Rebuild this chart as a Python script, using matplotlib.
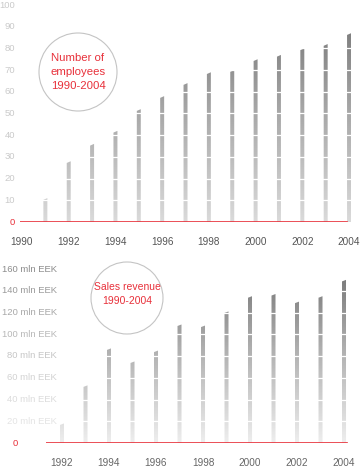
import numpy as np
import matplotlib
matplotlib.use("Agg")
import matplotlib.pyplot as plt
from matplotlib.colors import LinearSegmentedColormap
from matplotlib.path import Path
from matplotlib.patches import PathPatch, Circle

# data
emp_years = [1991, 1992, 1993, 1994, 1995, 1996, 1997, 1998, 1999, 2000, 2001, 2002, 2003, 2004]
employees = [11, 28, 36, 42, 52, 58, 64, 69, 70, 75, 77, 80, 82, 87]
emp_ticks = [0, 10, 20, 30, 40, 50, 60, 70, 80, 90, 100]
emp_xticks = [1990, 1992, 1994, 1996, 1998, 2000, 2002, 2004]

rev_years = [1992, 1993, 1994, 1995, 1996, 1997, 1998, 1999, 2000, 2001, 2002, 2003, 2004]
revenue = [18, 53, 87, 75, 85, 109, 108, 121, 135, 137, 130, 135, 150]
rev_ticks = [0, 20, 40, 60, 80, 100, 120, 140, 160]
rev_xticks = [1992, 1994, 1996, 1998, 2000, 2002, 2004]

plt.rcParams['font.family'] = ['Liberation Sans', 'DejaVu Sans']

W, H = 361, 473
RED = '#e8303a'
cmap_top = LinearSegmentedColormap.from_list('top', ['#dadada', '#a8a8a8', '#727272'])
cmap_bot = LinearSegmentedColormap.from_list('bot', ['#eeeeee', '#b4b4b4', '#747474'])


def px_axes(fig, left, right, top, bottom):
    return fig.add_axes([left / W, 1 - bottom / H, (right - left) / W, (bottom - top) / H])


def grad_bars(ax, years, vals, width, cap, ymax, grid, cmap):
    verts, codes = [], []
    for x, v in zip(years, vals):
        verts += [(x - width / 2, 0), (x + width / 2, 0), (x + width / 2, v),
                  (x - width / 2, v - cap), (x - width / 2, 0)]
        codes += [Path.MOVETO, Path.LINETO, Path.LINETO, Path.LINETO, Path.CLOSEPOLY]
    patch = PathPatch(Path(verts, codes), facecolor='none', edgecolor='none')
    ax.add_patch(patch)
    x0, x1 = ax.get_xlim()
    grad = np.linspace(0, 1, 256).reshape(-1, 1)
    im = ax.imshow(grad, cmap=cmap, origin='lower', aspect='auto',
                   extent=[x0, x1, 0, ymax], zorder=2)
    im.set_clip_path(patch)
    for g in grid[1:]:
        ax.axhline(g, color='white', lw=0.9, zorder=3)
    ax.set_xlim(x0, x1)


fig = plt.figure(figsize=(W / 100, H / 100), dpi=100)

# top chart: employees
ax1 = px_axes(fig, 20, 351, 5, 222)
ax1.set_xlim(1989.914, 2004.084)
ax1.set_ylim(0, 100)
grad_bars(ax1, emp_years, employees, 0.17, 0.8, 100, emp_ticks, cmap_top)
ax1.axhline(0, xmin=0, xmax=(347 - 20) / 331, color=RED, lw=1.2, zorder=4)
ax1.set_ylim(0, 100)
for t in emp_ticks:
    ax1.text(-5 / 331, t, str(t), transform=ax1.get_yaxis_transform(),
             ha='right', va='center', fontsize=6.8,
             color=RED if t == 0 else '#cacaca')
ax1.set_xticks(emp_xticks)
ax1.set_xticklabels([str(y) for y in emp_xticks], fontsize=7.2, color='#555555')
ax1.tick_params(axis='x', length=0, pad=11)
ax1.set_yticks([])
for s in ax1.spines.values():
    s.set_visible(False)
ax1.patch.set_alpha(0)

# bottom chart: sales revenue
ax2 = px_axes(fig, 46, 350, 269, 443)
ax2.set_xlim(1991.319, 2004.255)
ax2.set_ylim(0, 160)
grad_bars(ax2, rev_years, revenue, 0.17, 1.4, 160, rev_ticks, cmap_bot)
ax2.axhline(0, xmin=0, xmax=(347 - 46) / 304, color=RED, lw=1.2, zorder=4)
ax2.set_ylim(0, 160)
shades = ['#e4e4e4', '#dcdcdc', '#d2d2d2', '#c6c6c6', '#b8b8b8', '#a8a8a8', '#9a9a9a', '#8c8c8c']
for t, c in zip(rev_ticks[1:], shades):
    ax2.text(11 / 304, t, f"{t} mln EEK", transform=ax2.get_yaxis_transform(),
             ha='right', va='center', fontsize=6.8, color=c)
ax2.text(-28 / 304, 0, "0", transform=ax2.get_yaxis_transform(),
         ha='right', va='center', fontsize=6.8, color=RED)
ax2.set_xticks(rev_xticks)
ax2.set_xticklabels([str(y) for y in rev_xticks], fontsize=7.2, color='#666666')
ax2.tick_params(axis='x', length=0, pad=11)
ax2.set_yticks([])
for s in ax2.spines.values():
    s.set_visible(False)
ax2.patch.set_alpha(0)

# overlay for circled titles
ov = fig.add_axes([0, 0, 1, 1])
ov.set_xlim(0, W)
ov.set_ylim(H, 0)
ov.axis('off')
ov.patch.set_alpha(0)
ov.add_patch(Circle((78, 72), 39, facecolor='none', edgecolor='#c4c4c4', lw=0.8))
ov.text(78, 72, "Number of\nemployees\n1990-2004", ha='center', va='center',
        fontsize=8.2, color=RED, linespacing=1.45)
ov.add_patch(Circle((127, 298), 36, facecolor='none', edgecolor='#c4c4c4', lw=0.8))
ov.text(127, 294, "Sales revenue\n1990-2004", ha='center', va='center',
        fontsize=7.5, color=RED, linespacing=1.55)

fig.savefig("out.png", dpi=100)
